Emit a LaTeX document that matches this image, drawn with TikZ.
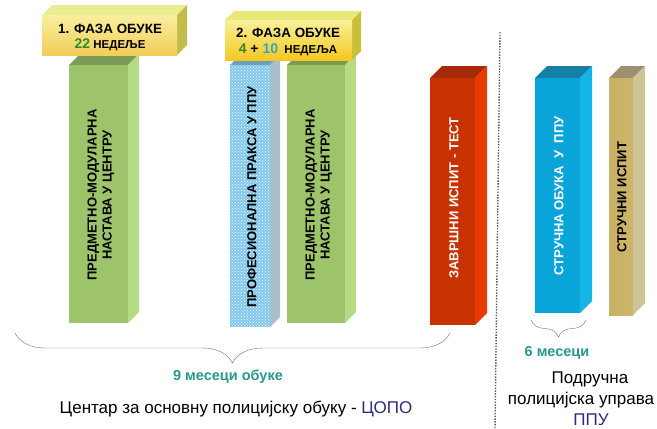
\documentclass[tikz,border=0pt]{standalone}
\usepackage{fontspec}
\setmainfont{Liberation Sans}
\usepackage{xcolor}
\usetikzlibrary{decorations.pathreplacing,patterns}
\tikzset{>=stealth}

\definecolor{tealtxt}{RGB}{40,152,140}
\definecolor{navytxt}{RGB}{42,42,128}
\definecolor{darkgrn}{RGB}{44,140,44}
\definecolor{lightteal}{RGB}{48,168,190}

% one 3d slab: x1, y1 (top), x2, y2 (bottom), depth, kind
\newcommand{\slab}[6]{%
  \fill[#6 top] (#1,#2) -- ++(#5,-#5) -- (#3+#5,#2-#5) -- (#3,#2) -- cycle;
  \fill[#6 side] (#3,#2) -- (#3+#5,#2-#5) -- (#3+#5,#4-#5) -- (#3,#4) -- cycle;
  \fill[#6 front] (#1,#2) rectangle (#3,#4);
}

\tikzset{
  green top/.style={fill={rgb,255:red,122;green,154;blue,85}},
  green side/.style={fill={rgb,255:red,181;green,220;blue,133}},
  green front/.style={fill={rgb,255:red,157;green,195;blue,107}},
  dots top/.style={fill={rgb,255:red,106;green,159;blue,192}},
  dots side/.style={fill={rgb,255:red,167;green,191;blue,204}},
  dots front/.style={fill={rgb,255:red,128;green,200;blue,236}},
  red top/.style={fill={rgb,255:red,165;green,42;blue,10}},
  red side/.style={fill={rgb,255:red,232;green,58;blue,0}},
  red front/.style={fill={rgb,255:red,200;green,50;blue,0}},
  cyan top/.style={fill={rgb,255:red,21;green,127;blue,165}},
  cyan side/.style={fill={rgb,255:red,18;green,181;blue,229}},
  cyan front/.style={fill={rgb,255:red,10;green,165;blue,216}},
  gold top/.style={fill={rgb,255:red,156;green,144;blue,112}},
  gold side/.style={fill={rgb,255:red,207;green,196;blue,150}},
  gold front/.style={left color={rgb,255:red,200;green,176;blue,100},
    middle color={rgb,255:red,236;green,220;blue,150},
    right color={rgb,255:red,205;green,182;blue,108}},
  pale top/.style={fill={rgb,255:red,236;green,236;blue,149}},
  pale side/.style={fill={rgb,255:red,196;green,188;blue,74}},
  pale front/.style={top color={rgb,255:red,248;green,239;blue,160},
    bottom color={rgb,255:red,242;green,205;blue,88}},
  sun top/.style={fill={rgb,255:red,232;green,232;blue,120}},
  sun side/.style={fill={rgb,255:red,201;green,192;blue,58}},
  sun front/.style={top color={rgb,255:red,248;green,240;blue,154},
    bottom color={rgb,255:red,245;green,200;blue,32}},
  bartext/.style={rotate=90, align=center, inner sep=0pt,
    font=\bfseries\fontsize{13}{15}\selectfont},
  phasetext/.style={inner sep=0pt, font=\bfseries\fontsize{13.4}{15}\selectfont},
  weektext/.style={inner sep=0pt, font=\bfseries\fontsize{11.5}{13}\selectfont},
  months/.style={inner sep=0pt, text=tealtxt, font=\bfseries\fontsize{14.5}{16}\selectfont},
  plaintext/.style={inner sep=0pt, align=center, font=\fontsize{17}{21}\selectfont},
  bracket/.style={decorate, thin, draw=black!55}
}

\begin{document}
\begin{tikzpicture}[x=1pt,y=-1pt]
    \useasboundingbox[fill=white] (0,0) rectangle (657,429);

    % bars of the centre
    \slab{69}{65}{128}{323}{11}{green}
    \slab{230}{65}{270}{327}{10}{dots}
    \fill[pattern=crosshatch dots, pattern color=white] (230,65) rectangle (270,327);
    \slab{287}{65}{345}{323}{11}{green}
    \slab{430}{78}{475}{325}{12}{red}
    % bars of the police office
    \slab{535}{78}{580}{313}{12}{cyan}
    \slab{609}{78}{633}{315}{12}{gold}

    % the two phases
    \slab{42}{15}{177}{55}{10}{pale}
    \slab{225}{20}{352}{60}{9}{sun}

    \draw[dash pattern=on 1.4pt off 1.4pt, line width=1.4pt, black!65] (500,32) -- (495,429);

    \node[phasetext] (phaseone) at (110,29) {1. ФАЗА ОБУКЕ};
    \node[weektext] (weeksone) at (110,45) {{\fontsize{14}{15}\selectfont\color{darkgrn}22} НЕДЕЉЕ};
    \node[phasetext] (phasetwo) at (288,33) {2. ФАЗА ОБУКЕ};
    \node[weektext] (weekstwo) at (288,50) {{\fontsize{14}{15}\selectfont\color{darkgrn}4 \color{black}+ \color{lightteal}10}\ \ НЕДЕЉА};

    \node[bartext] (teachone) at (101,195) {ПРЕДМЕТНО-МОДУЛАРНА\\НАСТАВА У ЦЕНТРУ};
    \node[bartext] (practice) at (252,197) {ПРОФЕСИОНАЛНА ПРАКСА У ППУ};
    \node[bartext] (teachtwo) at (319,195) {ПРЕДМЕТНО-МОДУЛАРНА\\НАСТАВА У ЦЕНТРУ};
    \node[bartext, text=white] (finaltest) at (454,198) {ЗАВРШНИ ИСПИТ - ТЕСТ};
    \node[bartext, text=white] (training) at (559,196) {СТРУЧНА ОБУКА\ \ У\ \ ППУ};
    \node[bartext] (exam) at (622,197) {СТРУЧНИ ИСПИТ};

    \draw[bracket, decoration={brace, amplitude=30pt}] (450,333) -- (15,333);
    \draw[bracket, decoration={brace, amplitude=17pt}] (586,320) -- (531,320);

    \node[months] (ninemonths) at (228,377) {9 месеци обуке};
    \node[plaintext] (copo) at (236,409) {Центар за основну полицијску обуку - \textcolor{navytxt}{ЦОПО}};
    \node[months] (sixmonths) at (557,353) {6 месеци};
    \node[plaintext] (ppuarea) at (590,379) {Подручна};
    \node[plaintext] (ppupolice) at (581,400) {полицијска управа};
    \node[plaintext, text=navytxt] (ppuabbr) at (591,420) {ППУ};
\end{tikzpicture}
\end{document}
